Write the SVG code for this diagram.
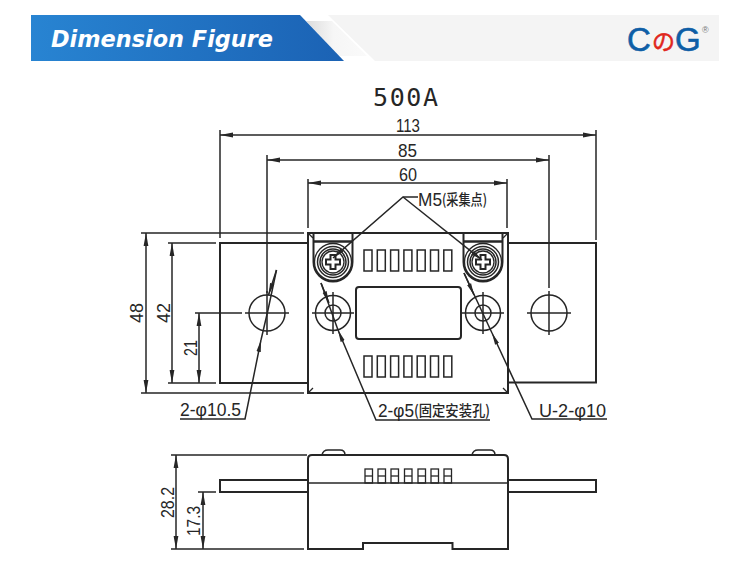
<svg xmlns="http://www.w3.org/2000/svg" width="750" height="571" viewBox="0 0 750 571">
<style>
.l{fill:none;stroke:#262626;stroke-width:1.5}
.t{stroke-width:2}
.thin{stroke-width:1.3}
.d{fill:none;stroke:#262626;stroke-width:1.5;marker-start:url(#ah);marker-end:url(#ah)}
text{fill:#262626;font-family:"Liberation Sans","Noto Sans CJK SC",sans-serif;font-size:19px}
.cjk{font-family:"Noto Sans CJK SC",sans-serif;font-size:15px;font-weight:500}
</style>
<defs>
<marker id="ah" viewBox="0 0 13 6" refX="13" refY="3" markerWidth="13" markerHeight="6" markerUnits="userSpaceOnUse" orient="auto-start-reverse"><path d="M13 3L0 0.6V5.4Z" fill="#262626"/></marker>
<marker id="ae" viewBox="0 0 12 6" refX="12" refY="3" markerWidth="12" markerHeight="6" markerUnits="userSpaceOnUse" orient="auto"><path d="M12 3L0 0.8V5.2Z" fill="#262626"/></marker>
<linearGradient id="blue" x1="0" x2="1" y1="0" y2="0"><stop offset="0" stop-color="#2884d2"/><stop offset="1" stop-color="#1b62b4"/></linearGradient>
<linearGradient id="fold" x1="0" y1="0" x2="1" y2="0"><stop offset="0" stop-color="#dcdcdc"/><stop offset="0.45" stop-color="#f6f6f6"/><stop offset="1" stop-color="#fafafa"/></linearGradient>
<g id="slots"><rect x="0" y="0" width="8" height="21"/><rect x="13.3" y="0" width="8" height="21"/><rect x="26.6" y="0" width="8" height="21"/><rect x="39.9" y="0" width="8" height="21"/><rect x="53.2" y="0" width="8" height="21"/><rect x="66.5" y="0" width="8" height="21"/><rect x="79.8" y="0" width="8" height="21"/></g>
<g id="screw"><circle r="18.5" class="l thin"/><circle r="15.5" class="l"/><circle r="13" class="l"/><circle r="11" class="l thin"/><path d="M-2.500 -7H2.500V-2.500H7V2.500H2.500V7H-2.500V2.500H-7V-2.500H-2.500Z" class="l t"/></g>
<g id="hole5"><circle r="17.5" class="l"/><circle r="8" class="l"/><path d="M-21 0H21M0 -21V21" class="l"/></g>
<g id="hole10"><circle r="18" class="l"/><path d="M-22 0H22M0 -22V22" class="l"/></g>
<g id="term"><rect x="0" y="0" width="7.500" height="14" class="l thin"/><path d="M0 7H7.500" class="l thin"/></g>
</defs>
<rect width="750" height="571" fill="#fff"/>

<g id="header">
<path d="M328 15H719V61H375Z" fill="#f4f4f4"/>
<path d="M306 21H332L367 56H339Z" fill="url(#fold)"/>
<path d="M31 15H300L344 61H31Z" fill="url(#blue)"/>
<text x="51" y="47" textLength="222" lengthAdjust="spacingAndGlyphs" style="fill:#fff;font-size:23px;font-weight:700;font-style:italic;font-family:'DejaVu Sans',sans-serif">Dimension Figure</text>
</g>
<g id="logo">
<text x="627" y="51" style="fill:#0e5ea6;stroke:#0e5ea6;stroke-width:.6;font-size:33px">C</text>
<text x="652" y="50" style="fill:#e0261c;stroke:#e0261c;stroke-width:.5;font-size:23px;font-family:'Noto Sans CJK JP',sans-serif">の</text>
<text x="675" y="51" style="fill:#0e5ea6;stroke:#0e5ea6;stroke-width:.6;font-size:33px">G</text>
<text x="702" y="33" style="fill:#777;font-size:9px">®</text>
</g>
<text id="title" x="373" y="106" textLength="65" style="font-size:25px;font-family:'DejaVu Sans Mono',monospace">500A</text>

<g id="front-body">
<path d="M308 233H508V393H308Z" class="l t"/>
<path d="M308 233l5 5M508 233l-5 5M308 393l5-5M508 393l-5-5" class="l thin"/>
<rect x="356" y="287" width="105" height="52" rx="3" class="l t"/>
<use href="#slots" x="364" y="250" class="l"/>
<use href="#slots" x="364" y="356" class="l"/>
</g>
<g id="clamp-left">
<path d="M313.500 234V262A19.500 19.500 0 0 0 352.500 262V234" class="l t"/>
<path d="M314 241.500H352" class="l" style="stroke-width:2.500"/>
<use href="#screw" x="333" y="262"/>
</g>
<g id="clamp-right">
<path d="M463.500 234V262A19.500 19.500 0 0 0 502.500 262V234" class="l t"/>
<path d="M464 241.500H502" class="l" style="stroke-width:2.500"/>
<use href="#screw" x="483" y="262"/>
</g>
<g id="hole-inner-left"><use href="#hole5" x="333" y="313"/></g>
<g id="hole-inner-right"><use href="#hole5" x="483" y="313"/></g>
<g id="busbar-left">
<path d="M308 243H220V383H308" class="l t"/>
<use href="#hole10" x="267" y="313"/>
</g>
<g id="busbar-right">
<path d="M508 243H596V382.500H508" class="l t"/>
<use href="#hole10" x="549" y="313"/>
</g>

<g id="side-view">
<path d="M308 549V459Q308 455 312 455H504Q508 455 508 459V549H452.500V543H363V549Z" class="l t"/>
<path d="M308 483H508" class="l"/>
<rect x="220" y="480" width="88" height="12" class="l t"/>
<rect x="508" y="480" width="88" height="12" class="l t"/>
<path d="M322 455Q323 450 328 450H340Q345 450 345 455M472 455Q473 450 478 450H490Q495 450 495 455" class="l"/>
<use href="#term" x="365" y="469"/><use href="#term" x="378" y="469"/><use href="#term" x="391" y="469"/><use href="#term" x="404.500" y="469"/><use href="#term" x="418" y="469"/><use href="#term" x="431" y="469"/><use href="#term" x="444" y="469"/>
</g>

<g id="connectors">
<path d="M220 130V238M596 130V240M267 155V293M549 155V288M308 179V228M507 179V228" class="l"/>
<path d="M220 135H596" class="d"/>
<path d="M267 160H549" class="d"/>
<path d="M308 183H507" class="d"/>
<path d="M141 233H304M141 393H304M168 243H216M168 383H216M195 313H242M171 455H307M171 549H304M198 492H216" class="l"/>
<path d="M146 233V393" class="d"/>
<path d="M172 243V383" class="d"/>
<path d="M199 313V383" class="d"/>
<path d="M176 455V549" class="d"/>
<path d="M203 492V549" class="d"/>
<path d="M418 197H403L333 258" class="l" marker-end="url(#ae)"/>
<path d="M403 197L482 260" class="l" marker-end="url(#ae)"/>
<path d="M180 419H245L261 340" class="l" marker-end="url(#ae)"/>
<path d="M261 340L268 310L276.500 270" class="l"/>
<path d="M276.500 270L268.500 295" class="l" marker-end="url(#ae)"/>
<path d="M490 420H376L338 330" class="l" marker-end="url(#ae)"/>
<path d="M338 330L321 283" class="l"/>
<path d="M321 283L329 303" class="l" marker-end="url(#ae)"/>
<path d="M607 419H532L492 333" class="l" marker-end="url(#ae)"/>
<path d="M492 333L464 273" class="l"/>
<path d="M464 273L474 295" class="l" marker-end="url(#ae)"/>
</g>

<g id="labels">
<text x="396" y="132" textLength="24" lengthAdjust="spacingAndGlyphs">113</text>
<text x="398" y="157" textLength="19" lengthAdjust="spacingAndGlyphs">85</text>
<text x="399" y="181" textLength="18" lengthAdjust="spacingAndGlyphs">60</text>
<text x="418" y="206" textLength="24" lengthAdjust="spacingAndGlyphs">M5</text>
<text x="442" y="205" class="cjk" textLength="45" lengthAdjust="spacingAndGlyphs">(采集点)</text>
<text x="180" y="416" textLength="61" lengthAdjust="spacingAndGlyphs">2-φ10.5</text>
<text x="378" y="417" textLength="36" lengthAdjust="spacingAndGlyphs">2-φ5</text>
<text x="414" y="416" class="cjk" textLength="76" lengthAdjust="spacingAndGlyphs">(固定安装孔)</text>
<text x="539" y="417" textLength="67" lengthAdjust="spacingAndGlyphs">U-2-φ10</text>
<text transform="translate(143 323) rotate(-90)" textLength="20" lengthAdjust="spacingAndGlyphs">48</text>
<text transform="translate(170 323) rotate(-90)" textLength="20" lengthAdjust="spacingAndGlyphs">42</text>
<text transform="translate(197 356) rotate(-90)" textLength="16" lengthAdjust="spacingAndGlyphs">21</text>
<text transform="translate(174 518) rotate(-90)" textLength="31" lengthAdjust="spacingAndGlyphs">28.2</text>
<text transform="translate(200 536) rotate(-90)" textLength="30" lengthAdjust="spacingAndGlyphs">17.3</text>
</g>
</svg>
